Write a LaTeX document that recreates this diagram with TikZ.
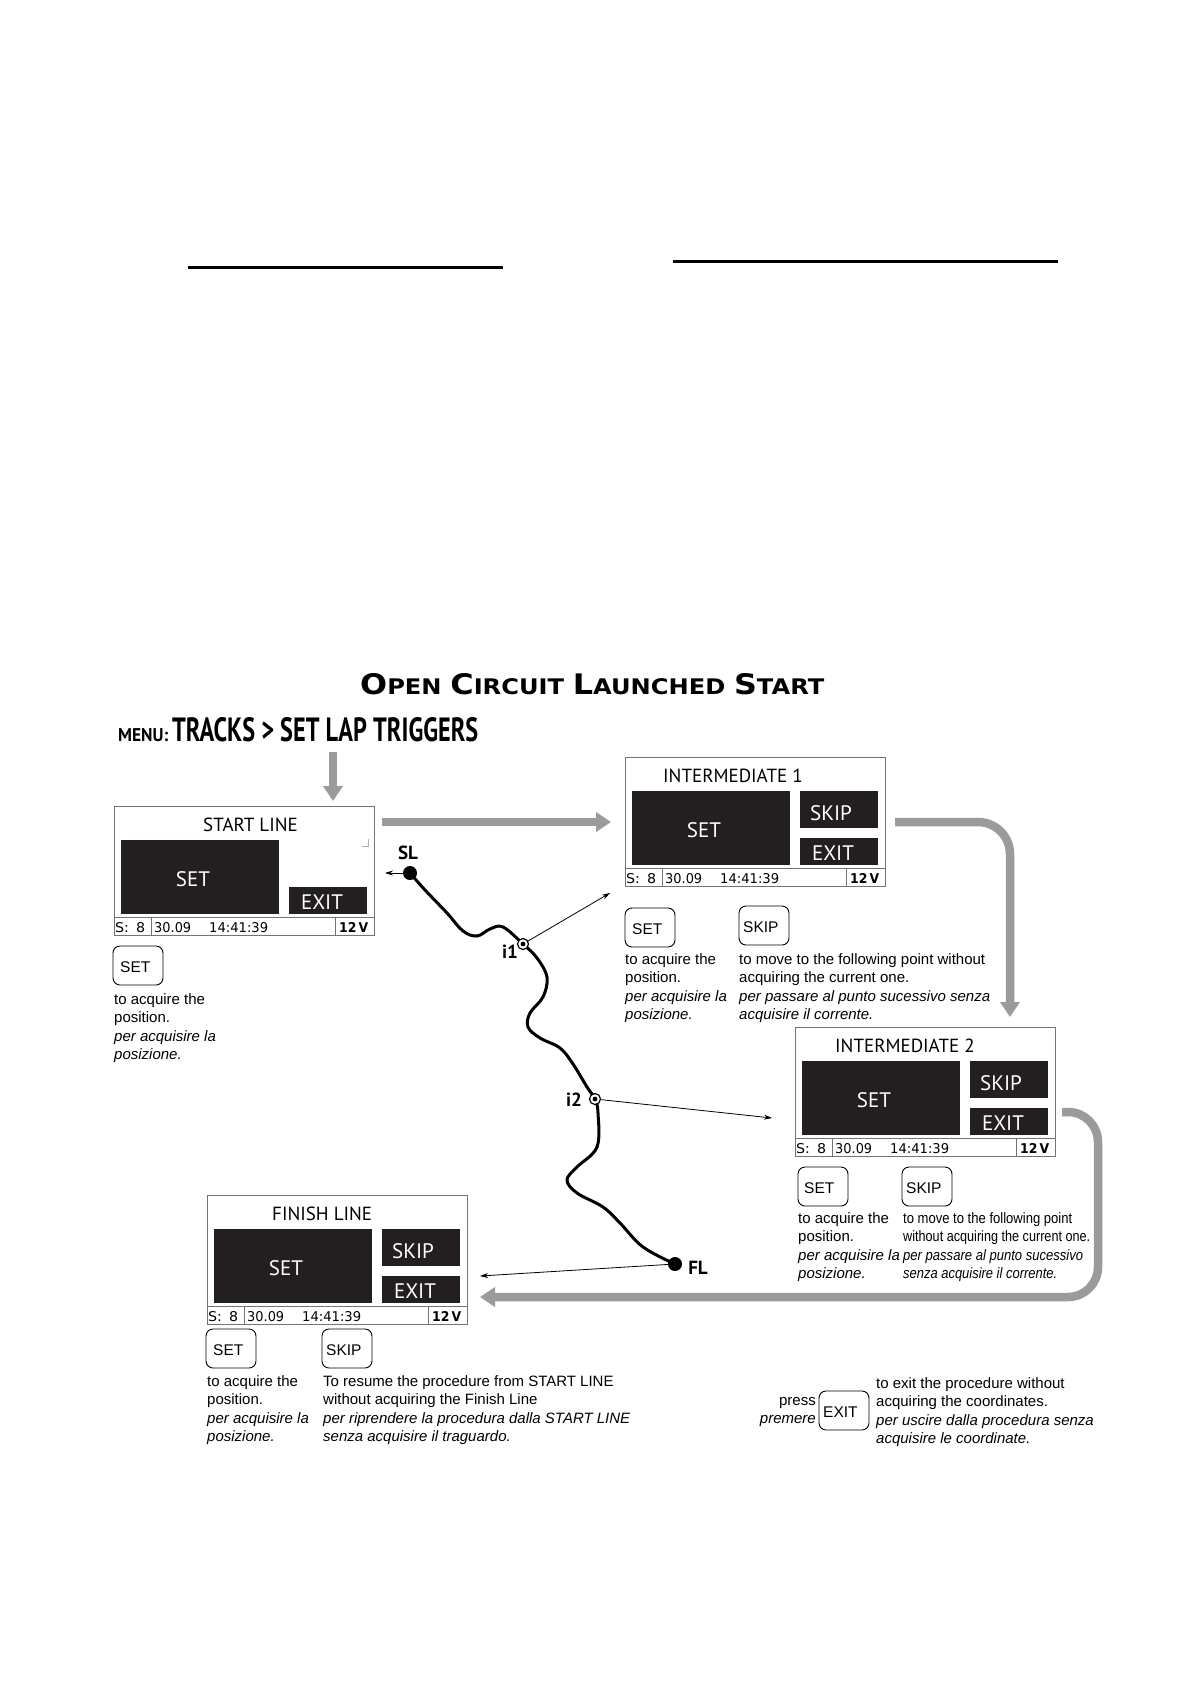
\documentclass[tikz,border=0pt]{standalone}
\usepackage{fontspec}
\usepackage{graphicx}
\setmainfont{Liberation Sans}
\newfontfamily\ptsans{PT Sans}
\newfontfamily\dejavu{DejaVu Sans}
\usetikzlibrary{arrows.meta,calc}

\definecolor{flowgray}{RGB}{155,155,155}
\definecolor{lcdblack}{RGB}{35,31,32}
\definecolor{framegray}{RGB}{115,115,115}

\tikzset{
  lcdframe/.style={draw=framegray, line width=1pt, fill=white, minimum width=260pt, minimum height=129pt, inner sep=0pt, outer sep=0pt},
  lcdkey/.style={fill=lcdblack, inner sep=0pt, outer sep=0pt},
  lcdlabel/.style={text=white, font=\ptsans\fontsize{21}{21}\selectfont, inner sep=0pt},
  lcdtitle/.style={font=\ptsans\fontsize{19}{19}\selectfont, inner sep=0pt},
  lcdstatus/.style={font=\dejavu\fontsize{12}{12}\selectfont, inner sep=0pt, anchor=base west},
  lcdline/.style={draw=framegray, line width=0.8pt},
  keybtn/.style={draw=black, line width=0.9pt, rounded corners=7pt, minimum width=50pt, minimum height=39pt, inner sep=0pt, outer sep=0pt},
  keytext/.style={font=\fontsize{15.5}{15.5}\selectfont, inner sep=0pt, anchor=base west},
  desc/.style={font=\fontsize{15}{18}\selectfont, inner sep=0pt, anchor=base west},
  descit/.style={font=\fontsize{15}{18}\selectfont\itshape, inner sep=0pt, anchor=base west},
  flow/.style={draw=flowgray, line width=8.5pt, -{Triangle[length=15pt,width=19pt]}},
  thinarrow/.style={draw=black, line width=0.8pt, -{Stealth[length=8pt,width=5pt]}},
  track/.style={draw=black, line width=3pt, line cap=round, line join=round},
  trackdot/.style={circle, fill=black, minimum size=14pt, inner sep=0pt, outer sep=0pt},
  trackring/.style={circle, draw=black, fill=white, line width=1.2pt, minimum size=11pt, inner sep=0pt, outer sep=0pt},
  tracklabel/.style={font=\ptsans\bfseries\fontsize{19}{19}\selectfont, inner sep=0pt},
  topline/.style={draw=black, line width=3pt}
}

\newcommand{\lcdscreen}[5]{%
  \node[lcdframe, anchor=north west] (#1) at (#2,#3) {};
  \node[lcdtitle, anchor=base west] (#1-title) at ({#2+#5},{#3+25}) {#4};
  \node[lcdkey, minimum width=158pt, minimum height=74pt, anchor=north west] (#1-set) at ({#2+7},{#3+34}) {};
  \node[lcdlabel, anchor=base] (#1-setl) at ({#2+79},{#3+80}) {SET};
  \node[lcdkey, minimum width=78pt, minimum height=27pt, anchor=north west] (#1-exit) at ({#2+175},{#3+81}) {};
  \node[lcdlabel, anchor=base] (#1-exitl) at ({#2+208},{#3+103}) {EXIT};
  \draw[lcdline] ({#2},{#3+111}) -- ({#2+260},{#3+111});
  \draw[lcdline] ({#2+37},{#3+111}) -- ({#2+37},{#3+129});
  \draw[lcdline] ({#2+221},{#3+111}) -- ({#2+221},{#3+129});
  \node[lcdstatus] (#1-s1) at ({#2+1},{#3+126.5}) {\resizebox{30pt}{10pt}{S:\kern6pt8}};
  \node[lcdstatus] (#1-s2) at ({#2+40},{#3+126.5}) {\resizebox{37pt}{10pt}{30.09}};
  \node[lcdstatus] (#1-s3) at ({#2+95},{#3+126.5}) {\resizebox{59pt}{10pt}{14:41:39}};
  \node[lcdstatus] (#1-s4) at ({#2+225},{#3+126.5}) {\resizebox{29pt}{10pt}{\bfseries 12\kern2pt V}};
}
\newcommand{\lcdskip}[3]{%
  \node[lcdkey, minimum width=78pt, minimum height=37pt, anchor=north west] (#1-skip) at ({#2+175},{#3+34}) {};
  \node[lcdlabel, anchor=base] (#1-skipl) at ({#2+206},{#3+63}) {SKIP};
}
\newcommand{\keybutton}[5]{% name, x, y, label, label x offset
  \node[keybtn, anchor=north west] (#1) at (#2,#3) {};
  \node[keytext] (#1-l) at ({#2+#5},{#3+26.5}) {#4};
}
\newcommand{\descblock}[7]{% name, x, y, l1, l2, l3, l4
  \node[desc] (#1-a) at (#2,#3) {#4};
  \node[desc] (#1-b) at (#2,{#3+18}) {#5};
  \node[descit] (#1-c) at (#2,{#3+37}) {#6};
  \node[descit] (#1-d) at (#2,{#3+55}) {#7};
}
\newcommand{\tcap}[1]{{\fontsize{29}{29}\selectfont #1}}

\begin{document}
\begin{tikzpicture}[x=1pt,y=-1pt]
\useasboundingbox[fill=white] (0,0) rectangle (1191,1684);

% top rules
\coordinate (r1a) at (188,267); \coordinate (r1b) at (503,267);
\coordinate (r2a) at (673,261); \coordinate (r2b) at (1058,261);
\draw[topline] (r1a) -- (r1b);
\draw[topline] (r2a) -- (r2b);

% title
\node[anchor=base west, inner sep=0pt] (title) at (360,694)
  {\resizebox{464pt}{21pt}{\dejavu\bfseries\fontsize{22}{22}\selectfont\tcap{O}PEN\hspace{8pt}\tcap{C}IRCUIT\hspace{8pt}\tcap{L}AUNCHED\hspace{8pt}\tcap{S}TART}};

% menu line
\node[anchor=base west, inner sep=0pt] (menu1) at (118,741)
  {\resizebox{50pt}{13pt}{\ptsans\bfseries MENU:}};
\node[anchor=base west, inner sep=0pt] (menu2) at (172,741)
  {\resizebox{306pt}{24pt}{\ptsans\bfseries TRACKS > SET LAP TRIGGERS}};

% screens
\lcdscreen{start}{114}{806}{START LINE}{89}
\draw[draw=gray!60, line width=0.6pt] (362,846) -- (368,846) -- (368,839);
\lcdscreen{int1}{625}{757}{INTERMEDIATE 1}{38}
\lcdskip{int1}{625}{757}
\lcdscreen{int2}{795}{1027}{INTERMEDIATE 2}{40}
\lcdskip{int2}{795}{1027}
\lcdscreen{fin}{207}{1195}{FINISH LINE}{65}
\lcdskip{fin}{207}{1195}

% flow arrows
\coordinate (m-a) at (333,752);
\coordinate (m-b) at (333,801);
\draw[flow] (m-a) -- (m-b);
\coordinate (f1a) at (382,822);
\coordinate (f1b) at (611,822);
\draw[flow] (f1a) -- (f1b);
\coordinate (f2a) at (895,822);
\coordinate (f2c) at (1010,822);
\coordinate (f2b) at (1010,1017);
\draw[flow, rounded corners=32pt] (f2a) -- (f2c) -- (f2b);
\coordinate (f3a) at (1062,1112);
\coordinate (f3c) at (1098,1112);
\coordinate (f3d) at (1098,1297);
\coordinate (f3b) at (480,1297);
\draw[flow, rounded corners=30pt] (f3a) -- (f3c) -- (f3d) -- (f3b);

% track
\draw[track] plot[smooth, tension=0.6] coordinates {
 (410,873) (425,890) (447,913) (463,931) (477,936) (490,929) (503,927) (523,944)
 (537,958) (547,977) (543,997) (530,1013) (528,1027) (540,1038) (560,1048)
 (573,1064) (587,1087) (595,1099) (598,1113) (597,1147) (577,1167) (567,1180)
 (577,1193) (603,1207) (620,1223) (643,1247) (675,1264)};
\node[trackdot] (sl) at (410,873) {};
\node[trackdot] (fl) at (675,1264) {};
\node[trackring] (i1) at (523,944) {};
\node[trackring] (i2) at (595,1099) {};
\fill[black] (i1.center) circle (2.4pt);
\fill[black] (i2.center) circle (2.4pt);
\node[tracklabel] (sl-l) at (408,853) {SL};
\node[tracklabel] (i1-l) at (510,952) {i1};
\node[tracklabel] (i2-l) at (574,1100) {i2};
\node[tracklabel] (fl-l) at (698,1268) {FL};

\coordinate (sl-e) at (385,873);
\coordinate (i1-e) at (610,893);
\coordinate (i2-e) at (772,1118);
\coordinate (fl-e) at (480,1276);
\draw[thinarrow] (sl) -- (sl-e);
\draw[thinarrow] (i1) -- (i1-e);
\draw[thinarrow] (i2) -- (i2-e);
\draw[thinarrow] (fl) -- (fl-e);

% keys and descriptions
\keybutton{k-start-set}{113}{946}{SET}{7}
\descblock{d-start}{114}{1004}{to acquire the}{position.}{per acquisire la}{posizione.}

\keybutton{k-int1-set}{625}{908}{SET}{7}
\descblock{d-int1-set}{625}{964}{to acquire the}{position.}{per acquisire la}{posizione.}
\keybutton{k-int1-skip}{739}{906}{SKIP}{4}
\descblock{d-int1-skip}{739}{964}{to move to the following point without}{acquiring the current one.}{per passare al punto sucessivo senza}{acquisire il corrente.}

\keybutton{k-int2-set}{798}{1167}{SET}{6}
\descblock{d-int2-set}{798}{1223}{to acquire the}{position.}{per acquisire la}{posizione.}
\keybutton{k-int2-skip}{902}{1167}{SKIP}{4}
\descblock{d-int2-skip}{903}{1223}
  {\resizebox{169pt}{\height}{to move to the following point}}
  {\resizebox{187pt}{\height}{without acquiring the current one.}}
  {\resizebox{180pt}{\height}{per passare al punto sucessivo}}
  {\resizebox{154pt}{\height}{senza acquisire il corrente.}}

\keybutton{k-fin-set}{206}{1329}{SET}{7}
\descblock{d-fin-set}{207}{1386}{to acquire the}{position.}{per acquisire la}{posizione.}
\keybutton{k-fin-skip}{322}{1329}{SKIP}{4}
\descblock{d-fin-skip}{323}{1386}{To resume the procedure from START LINE}{without acquiring the Finish Line}{per riprendere la procedura dalla START LINE}{senza acquisire il traguardo.}

\keybutton{k-exit}{819}{1391}{EXIT}{4}
\node[desc, anchor=base east] (press) at (816,1405) {press};
\node[descit, anchor=base east] (premere) at (816,1423) {premere};
\descblock{d-exit}{876}{1388}{to exit the procedure without}{acquiring the coordinates.}{per uscire dalla procedura senza}{acquisire le coordinate.}

\end{tikzpicture}
\end{document}
